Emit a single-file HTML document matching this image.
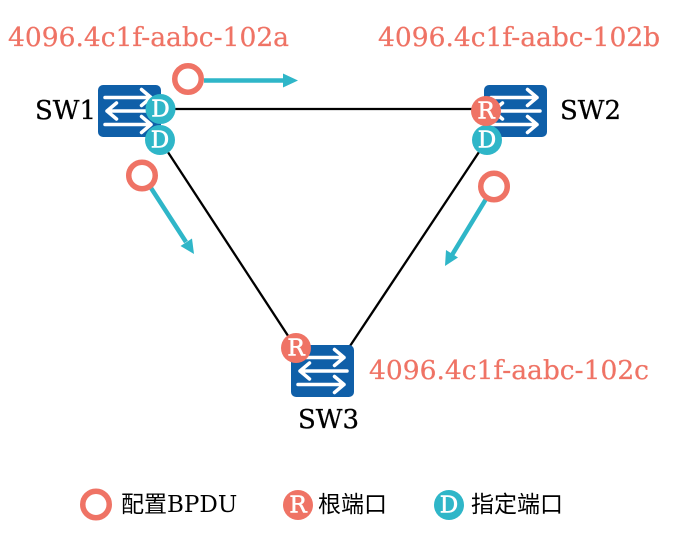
<!DOCTYPE html>
<html><head><meta charset="utf-8">
<style>
html,body{margin:0;padding:0;background:#fff;width:674px;height:533px;overflow:hidden}
svg{display:block}
.t{font-family:"DejaVu Serif","Noto Serif CJK SC",serif}
.mac{font-size:26.500px;fill:#ef7365;stroke:#ef7365;stroke-width:.25}
.sw{font-size:26px;fill:#000;stroke:#000;stroke-width:.3}
.lg{font-size:23px;fill:#000;font-family:"DejaVu Serif","WenQuanYi Zen Hei","Noto Sans CJK SC",serif}
.p{font-size:23px;fill:#fff;stroke:#fff;stroke-width:.6;text-anchor:middle;font-family:"DejaVu Serif",serif;font-weight:400}
</style></head><body>
<svg width="674" height="533" viewBox="0 0 674 533" xmlns="http://www.w3.org/2000/svg">
<defs>
<g id="sw">
<rect width="63" height="52" rx="5" fill="#0f5fa8"/>
<g fill="none" stroke="#fff" stroke-width="3.500" stroke-linecap="round" stroke-linejoin="round">
<path d="M7 12.500H53M43.500 4.500L53 12.500L43.500 20.500"/>
<path d="M56 26H9M18.500 18L9 26L18.500 34"/>
<path d="M7 39.500H53M43.500 31.500L53 39.500L43.500 47.500"/>
</g>
</g>
</defs>
<g stroke="#000" stroke-width="2.300" fill="none">
<path d="M160 109H486"/>
<path d="M160 140L296 348"/>
<path d="M487 140L350 346"/>
</g>
<use href="#sw" x="98" y="85"/>
<use href="#sw" x="484" y="85"/>
<use href="#sw" x="291" y="345"/>

<text class="t mac" x="8" y="46">4096.4c1f-aabc-102a</text>
<text class="t mac" x="378" y="46">4096.4c1f-aabc-102b</text>
<text class="t mac" x="369" y="379">4096.4c1f-aabc-102c</text>
<text class="t sw" x="35" y="119">SW1</text>
<text class="t sw" x="560" y="119">SW2</text>
<text class="t sw" x="298" y="428">SW3</text>

<circle cx="160.500" cy="109" r="15" fill="#2fb6c8"/>
<text class="p" x="160.500" y="116.500">D</text>
<circle cx="160" cy="140" r="15" fill="#2fb6c8"/>
<text class="p" x="160" y="147.500">D</text>
<circle cx="487" cy="140" r="15" fill="#2fb6c8"/>
<text class="p" x="487" y="147.500">D</text>
<circle cx="486" cy="111" r="15" fill="#ef7365"/>
<text class="p" x="486" y="118.500">R</text>
<circle cx="296" cy="348" r="15" fill="#ef7365"/>
<text class="p" x="296" y="355.500">R</text>

<g stroke="#2fb6c8" stroke-width="4.500" fill="none">
<path d="M204 80.500H285"/>
<path d="M151 188L186 242"/>
<path d="M486 199L452 255"/>
</g>
<g fill="#2fb6c8">
<path d="M298 80.500L283 73.500V87.500Z"/>
<path d="M194 254L180.500 246L192 238.500Z"/>
<path d="M445 266L446 250L458 257.500Z"/>
</g>
<g fill="#fff" stroke="#ef7365" stroke-width="5.500">
<circle cx="188" cy="79" r="13.250"/>
<circle cx="142" cy="175.500" r="13.250"/>
<circle cx="494" cy="186.500" r="13.250"/>
<circle cx="96" cy="504.500" r="13.250"/>
</g>
<text class="lg" x="121" y="512">配置BPDU</text>
<circle cx="298" cy="505" r="15" fill="#ef7365"/>
<text class="p" x="298" y="512.500">R</text>
<text class="lg" x="318" y="512">根端口</text>
<circle cx="449" cy="505" r="15" fill="#2fb6c8"/>
<text class="p" x="449" y="512.500">D</text>
<text class="lg" x="471" y="512">指定端口</text>
</svg>
</body></html>
